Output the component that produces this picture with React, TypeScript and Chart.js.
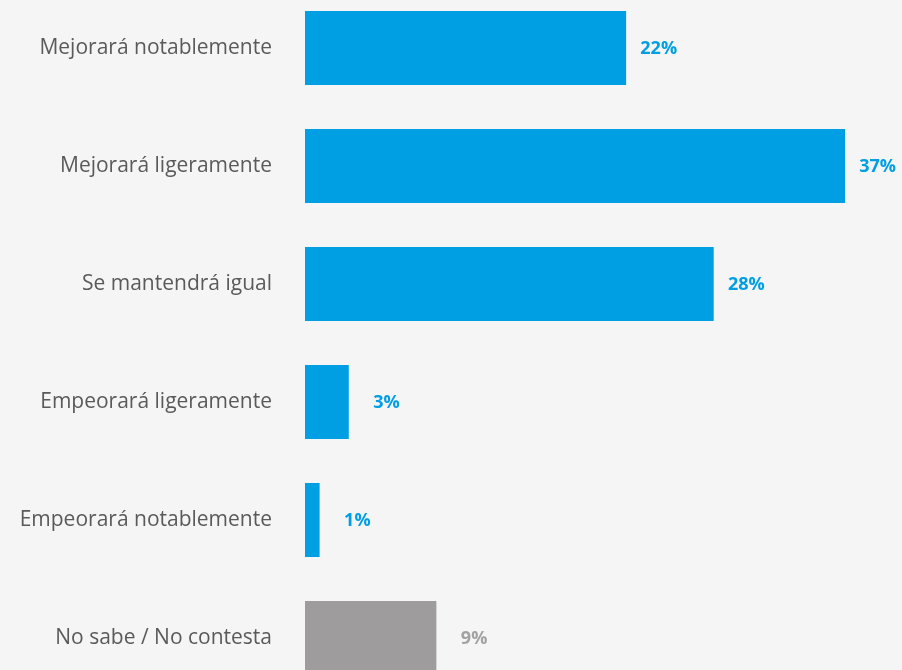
import React, { useEffect, useRef } from "react";
import { Chart, registerables } from "chart.js";

Chart.register(...registerables);

const categories = [
  "Mejorará notablemente",
  "Mejorará ligeramente",
  "Se mantendrá igual",
  "Empeorará ligeramente",
  "Empeorará notablemente",
  "No sabe / No contesta",
];
const values = [22, 37, 28, 3, 1, 9];
const valueLabels = ["22%", "37%", "28%", "3%", "1%", "9%"];
const barColors = ["#009fe3", "#009fe3", "#009fe3", "#009fe3", "#009fe3", "#9e9c9c"];
const labelColors = ["#009fe3", "#009fe3", "#009fe3", "#009fe3", "#009fe3", "#a3a2a2"];

const valueLabelPlugin = {
  id: "valueLabels",
  afterDatasetsDraw(chart: any) {
    const ctx = chart.ctx;
    const meta = chart.getDatasetMeta(0);
    ctx.save();
    ctx.font = "bold 18px 'Open Sans', sans-serif";
    ctx.textAlign = "right";
    ctx.textBaseline = "middle";
    meta.data.forEach((bar: any, i: number) => {
      ctx.fillStyle = labelColors[i];
      ctx.fillText(valueLabels[i], bar.x + 51, bar.y + 1);
    });
    ctx.restore();
  },
};

export default function App() {
  const ref = useRef<HTMLCanvasElement | null>(null);
  useEffect(() => {
    document.body.style.margin = "0";
    document.body.style.background = "#f5f5f5";
    const chart = new Chart(ref.current!, {
      type: "bar",
      data: {
        labels: categories,
        datasets: [
          {
            data: values,
            backgroundColor: barColors,
            borderWidth: 0,
            barPercentage: 1,
            categoryPercentage: 74 / 118,
          },
        ],
      },
      options: {
        indexAxis: "y",
        animation: false,
        responsive: false,
        maintainAspectRatio: false,
        layout: { padding: 0 },
        plugins: {
          legend: { display: false },
          tooltip: { enabled: false },
        },
        scales: {
          x: {
            display: false,
            min: 0,
            max: 40.9,
          },
          y: {
            grid: { display: false, drawTicks: false },
            border: { display: false },
            ticks: {
              color: "#5a5a5a",
              padding: 33,
              font: { family: "'Open Sans', sans-serif", size: 21 },
            },
            afterFit(scale: any) {
              scale.width = 305;
              scale.paddingTop = 0;
              scale.paddingBottom = 0;
            },
          },
        },
      },
      plugins: [valueLabelPlugin],
    });
    return () => chart.destroy();
  }, []);
  return (
    <div
      style={{
        position: "fixed",
        left: 0,
        top: -11,
        width: 902,
        height: 708,
        background: "#f5f5f5",
      }}
    >
      <canvas ref={ref} width={902} height={708} style={{ width: 902, height: 708, display: "block" }} />
    </div>
  );
}
